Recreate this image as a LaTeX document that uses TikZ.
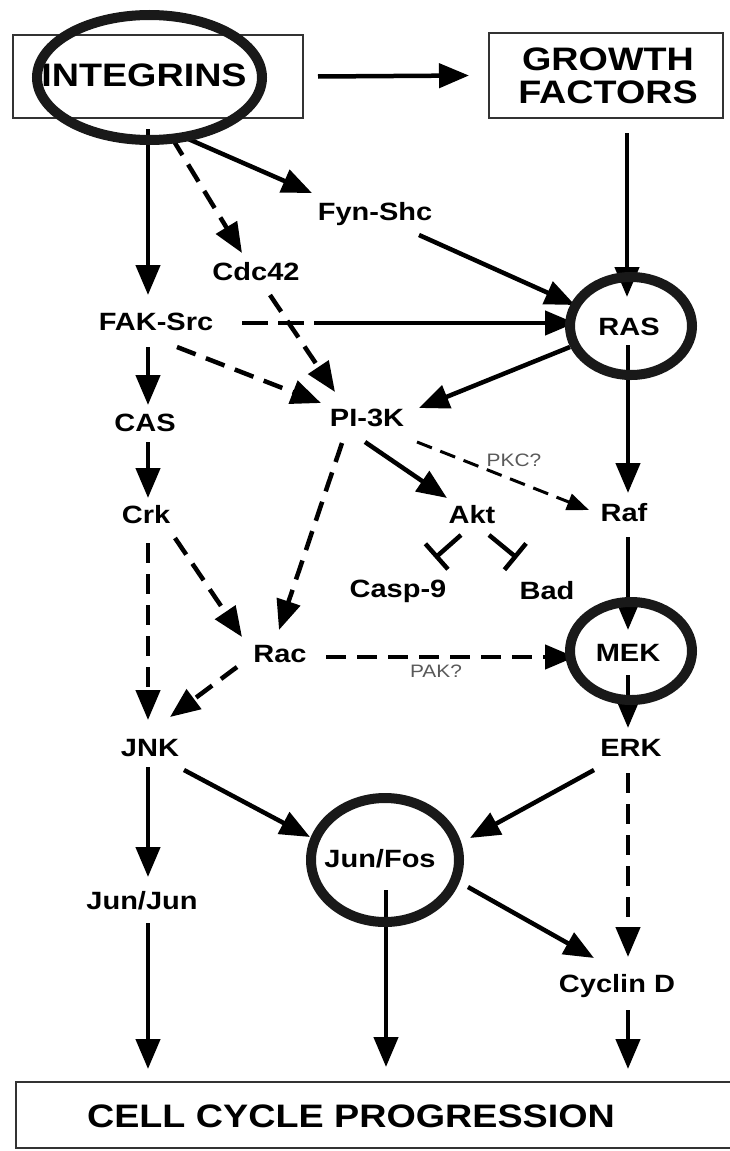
\documentclass[tikz,border=0pt]{standalone}
\usepackage{fontspec}
\setmainfont{Liberation Sans}[FakeStretch=1.16]
\usetikzlibrary{arrows.meta,calc,shapes.geometric}
\tikzset{
  lbl/.style={font=\fontsize{25}{28}\selectfont\bfseries, inner sep=0pt},
  big/.style={font=\fontsize{32.5}{33}\selectfont\bfseries, inner sep=0pt, align=center},
  small/.style={font=\fontsize{18}{20}\selectfont, text=black!65, inner sep=0pt},
  box/.style={draw=black!80, line width=2pt, inner sep=0pt, rectangle},
  ring/.style={draw=black!90, line width=10pt, inner sep=0pt, ellipse},
  arr/.style={line width=4.5pt, -{Triangle[length=30pt,width=24pt]}},
  darr/.style={arr, dash pattern=on 20pt off 11pt},
  tarr/.style={line width=3pt, dash pattern=on 16pt off 9pt, -{Triangle[length=22pt,width=17pt]}},
  inh/.style={line width=4.5pt, -{Bar[width=34pt]}},
}
\begin{document}
\begin{tikzpicture}[x=1pt,y=-1pt]
\useasboundingbox (0,0) rectangle (730,1151);
\fill[white] (0,0) rectangle (730,1151);
% boxes
\node[box, minimum width=290pt, minimum height=83pt] (integbox) at (158,76.5) {};
\node[big] (integ) at (144,75) {INTEGRINS};
\node[box, minimum width=234pt, minimum height=85pt] (gfbox) at (606,75.5) {};
\node[big] (gf) at (608,76) {GROWTH\\FACTORS};
\node[box, minimum width=729pt, minimum height=66pt] (ccpbox) at (380.5,1115) {};
\node[big] (ccp) at (351,1116) {CELL CYCLE PROGRESSION};
% labels
\node[lbl] (fyn) at (375,214) {Fyn-Shc};
\node[lbl] (cdc) at (256,272) {Cdc42};
\node[lbl] (fak) at (156,322) {FAK-Src};
\node[lbl] (ras) at (629,327) {RAS};
\node[lbl] (pi3k) at (367,418) {PI-3K};
\node[lbl] (cas) at (145,423) {CAS};
\node[lbl] (crk) at (146,515) {Crk};
\node[lbl] (akt) at (472,515) {Akt};
\node[lbl] (raf) at (624,513) {Raf};
\node[small] (pkc) at (514,460) {PKC?};
\node[lbl] (casp) at (398,591) {Casp-9};
\node[lbl] (bad) at (547,591) {Bad};
\node[lbl] (rac) at (280,654) {Rac};
\node[lbl] (mek) at (628,653) {MEK};
\node[small] (pak) at (436,671) {PAK?};
\node[lbl] (jnk) at (150,748) {JNK};
\node[lbl] (erk) at (631,748) {ERK};
\node[lbl] (junfos) at (380,859) {Jun/Fos};
\node[lbl] (junjun) at (142,901) {Jun/Jun};
\node[lbl] (cyclin) at (617,986) {Cyclin D};
% connectors
\draw[arr] ($(integbox.east)+(14,0)$) -- ($(gfbox.west)+(-19,0)$);
\draw[arr] ($(integbox.south)+(-10,10)$) -- ($(fak)+(-8,-27)$);
\draw[darr] ($(integbox.south)+(14,19)$) -- ($(cdc)+(-14,-19)$);
\draw[arr] ($(integbox.south)+(28,19)$) -- ($(fyn)+(-63,-21)$);
\draw[arr] ($(fyn)+(44,21)$) -- ($(ras)+(-54,-22)$);
\draw[arr] ($(gfbox.south)+(21,14)$) -- ($(ras)+(-2,-30)$);
\draw[arr, dash pattern=on 26pt off 10pt on 26pt off 10pt on 600pt] ($(fak)+(86,1)$) -- ($(ras)+(-54,-4)$);
\draw[darr] ($(cdc)+(14,23)$) -- ($(pi3k)+(-32,-26)$);
\draw[darr] ($(fak)+(21,25)$) -- ($(pi3k)+(-46,-15)$);
\draw[arr] ($(ras)+(-59,20)$) -- ($(pi3k)+(52,-10)$);
\draw[arr] ($(fak)+(-8,25)$) -- ($(cas)+(3,-18)$);
\draw[arr] ($(cas)+(3,19)$) -- ($(crk)+(2,-17)$);
\draw[arr] ($(ras)+(-1,18)$) -- ($(raf)+(4,-20)$);
\draw[arr] ($(pi3k)+(-2,24)$) -- ($(akt)+(-25,-17)$);
\draw[tarr] ($(pi3k)+(50,24)$) -- ($(raf)+(-35,-3)$);
\draw[inh] ($(akt)+(-11,20)$) -- ($(casp)+(37,-33)$);
\draw[inh] ($(akt)+(17,20)$) -- ($(bad)+(-30,-33)$);
\draw[darr] ($(pi3k)+(-25,25)$) -- ($(rac)+(-1,-24)$);
\draw[darr] ($(crk)+(29,23)$) -- ($(rac)+(-38,-17)$);
\draw[darr] ($(crk)+(2,28)$) -- ($(jnk)+(-2,-28)$);
\draw[arr] ($(raf)+(4,24)$) -- ($(mek)+(0,-23)$);
\draw[darr] ($(rac)+(46,3)$) -- ($(mek)+(-53,4)$);
\draw[darr] ($(rac)+(-43,13)$) -- ($(jnk)+(20,-31)$);
\draw[arr] ($(mek)+(0,22)$) -- ($(erk)+(-3,-20)$);
\draw[arr] ($(jnk)+(34,22)$) -- ($(junfos)+(-70,-22)$);
\draw[arr] ($(erk)+(-37,22)$) -- ($(junfos)+(90,-21)$);
\draw[arr] ($(jnk)+(-2,19)$) -- ($(junjun)+(6,-24)$);
\draw[darr] ($(erk)+(-3,25)$) -- ($(cyclin)+(11,-29)$);
\draw[arr] ($(junfos)+(88,28)$) -- ($(cyclin)+(-23,-28)$);
\draw[arr] ($(junjun)+(6,22)$) -- ($(ccpbox.north)+(-232.5,-12)$);
\draw[arr] ($(junfos)+(6,31)$) -- ($(ccpbox.north)+(5.5,-14)$);
\draw[arr] ($(cyclin)+(11,24)$) -- ($(ccpbox.north)+(247.5,-12)$);
% highlight rings
\node[ring, minimum width=225pt, minimum height=125pt] (integring) at (149.5,77.5) {};
\node[ring, minimum width=122pt, minimum height=98pt] (rasring) at (631,326) {};
\node[ring, minimum width=122pt, minimum height=98pt] (mekring) at (631,651) {};
\node[ring, minimum width=148pt, minimum height=124pt] (junfosring) at (385,860) {};
\end{tikzpicture}
\end{document}
